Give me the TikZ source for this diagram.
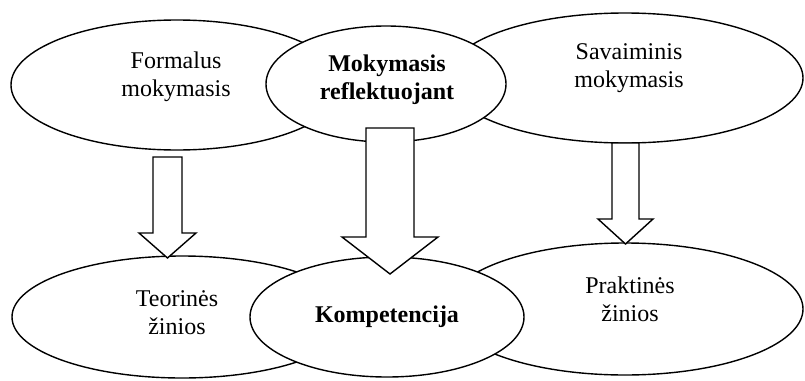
\documentclass[tikz,border=0pt]{standalone}
\usepackage{fontspec}
\setmainfont{Liberation Serif}
\usetikzlibrary{shapes.geometric}
\begin{document}
\begin{tikzpicture}[x=1pt,y=-1pt,
  bubble/.style={draw, ellipse, fill=white, line width=1.4pt, inner sep=0pt},
  caption/.style={align=center, font=\fontsize{24}{28}\selectfont},
  boldcaption/.style={caption, font=\fontsize{24}{28}\selectfont\bfseries},
  blockarrow/.style={draw, fill=white, line width=1.4pt, line join=miter}]
\useasboundingbox (0,0) rectangle (805,380);

% upper row: the two kinds of learning, with reflective learning laid over them
\node[bubble, minimum width=332pt, minimum height=130pt] (formal) at (177,85) {};
\node[bubble, minimum width=356pt, minimum height=130pt] (savaim) at (625,78) {};
\node[bubble, minimum width=240pt, minimum height=116pt] (reflekt) at (386,84) {};
\node[caption] (formalT) at (176,77) {Formalus\\mokymasis};
\node[caption] (savaimT) at (629,68) {Savaiminis\\mokymasis};
\node[boldcaption] (reflektT) at (387,80) {Mokymasis\\reflektuojant};

% lower row: the two kinds of knowledge, with competence laid over them
\node[bubble, minimum width=340pt, minimum height=122pt] (teor) at (182,317) {};
\node[bubble, minimum width=356pt, minimum height=132pt] (prakt) at (625,309) {};
\node[bubble, minimum width=274pt, minimum height=120pt] (komp) at (387,317) {};
\node[caption] (teorT) at (177,313) {Teorinės\\žinios};
\node[caption] (praktT) at (630,299) {Praktinės\\žinios};
\node[boldcaption] (kompT) at (387,317) {Kompetencija};

% hollow block arrows from each upper bubble to the one below it
\draw[blockarrow] (153,157) -- (182,157) -- (182,233) -- (196,233)
  -- (167.5,258) -- (139,233) -- (153,233) -- cycle;
\draw[blockarrow] (366,128) -- (414,128) -- (414,237) -- (438,237)
  -- (390,274) -- (342,237) -- (366,237) -- cycle;
\draw[blockarrow] (612,143) -- (639,143) -- (639,219) -- (653,219)
  -- (625.5,244) -- (598,219) -- (612,219) -- cycle;
\end{tikzpicture}
\end{document}
